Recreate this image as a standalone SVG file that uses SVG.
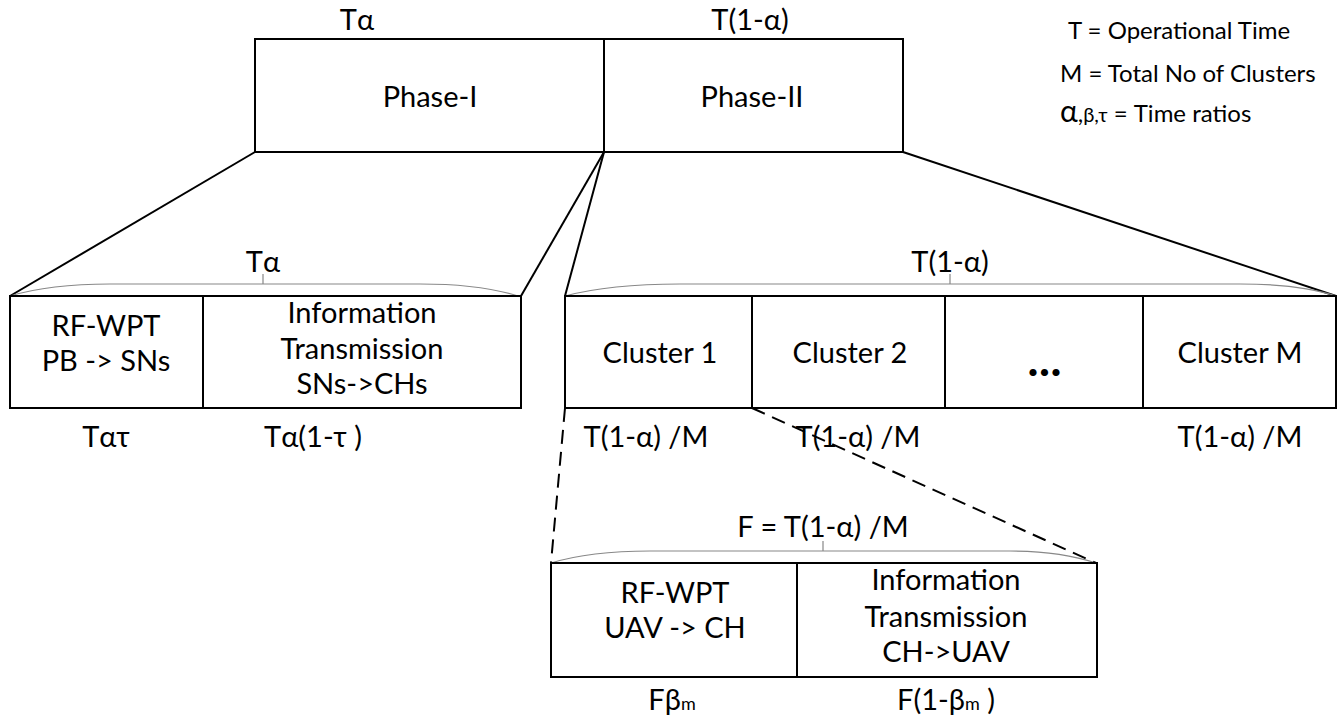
<svg xmlns="http://www.w3.org/2000/svg" width="1343" height="715" viewBox="0 0 1343 715">
<style>
text{font-family:Lato,"Open Sans","Liberation Sans",sans-serif;fill:#000;text-anchor:middle}
.t{font-size:29px}
.lg{font-size:24px;text-anchor:start}
.box{fill:#fff;stroke:#000;stroke-width:2}
.ln{stroke:#000;stroke-width:2;fill:none}
.dash{stroke:#000;stroke-width:2;fill:none;stroke-dasharray:14 8}
.brace{stroke:#888;stroke-width:1.2;fill:none}
</style>
<rect width="1343" height="715" fill="#fff"/>
<g id="connectors">
<line class="ln" x1="255" y1="152" x2="10" y2="296"/>
<line class="ln" x1="604" y1="152" x2="521" y2="296"/>
<line class="ln" x1="604" y1="152" x2="565" y2="296"/>
<line class="ln" x1="903" y1="152" x2="1336" y2="296"/>
<line class="dash" x1="565" y1="408" x2="551" y2="563"/>
<line class="dash" x1="752" y1="408" x2="1096" y2="563"/>
</g>
<g id="phase-top">
<rect class="box" x="255" y="39" width="349" height="113"/>
<rect class="box" x="604" y="39" width="299" height="113"/>
<text class="t" x="430" y="107">Phase-I</text>
<text class="t" x="752" y="107">Phase-II</text>
<text class="t" x="357" y="30">Tα</text>
<text class="t" x="750" y="30">T(1-α)</text>
</g>
<g id="legend">
<text class="lg" x="1068" y="39">T = Operational Time</text>
<text class="lg" x="1060" y="82">M = Total No of Clusters</text>
<text class="lg" x="1060" y="122"><tspan font-size="30">α</tspan>,<tspan font-size="20">β,τ</tspan>  = Time ratios</text>
</g>
<g id="phase1">
<path class="brace" d="M10,296 Q50,284 110,284 L420,284 Q480,284 518,296 M263,284 V274"/>
<text class="t" x="263" y="272">Tα</text>
<rect class="box" x="10" y="296" width="193" height="112"/>
<rect class="box" x="203" y="296" width="318" height="112"/>
<text class="t" x="106" y="336">RF-WPT</text>
<text class="t" x="106" y="371">PB -&gt; SNs</text>
<text class="t" x="362" y="323">Information</text>
<text class="t" x="362" y="359">Transmission</text>
<text class="t" x="362" y="394">SNs-&gt;CHs</text>
<text class="t" x="106" y="447">Tατ</text>
<text class="t" x="313" y="447">Tα(1-τ )</text>
</g>
<g id="phase2">
<path class="brace" d="M565,296 Q610,284 680,284 L1240,284 Q1300,284 1336,296 M950,284 V274"/>
<text class="t" x="950" y="272">T(1-α)</text>
<rect class="box" x="565" y="296" width="187" height="112"/>
<rect class="box" x="752" y="296" width="193" height="112"/>
<rect class="box" x="945" y="296" width="198" height="112"/>
<rect class="box" x="1143" y="296" width="193" height="112"/>
<text class="t" x="660" y="363">Cluster 1</text>
<text class="t" x="850" y="363">Cluster 2</text>
<text x="1045" y="376" font-size="44" font-weight="900" letter-spacing="1" font-family="'Liberation Sans',sans-serif">...</text>
<text class="t" x="1240" y="363">Cluster M</text>
<text class="t" x="646" y="447">T(1-α) /M</text>
<text class="t" x="858" y="447">T(1-α) /M</text>
<text class="t" x="1240" y="447">T(1-α) /M</text>
</g>
<g id="cluster-detail">
<path class="brace" d="M551,563 Q590,551 650,551 L1010,551 Q1060,551 1096,563 M823,551 V541"/>
<text class="t" x="823" y="537">F = T(1-α) /M</text>
<rect class="box" x="551" y="563" width="246" height="114"/>
<rect class="box" x="797" y="563" width="300" height="114"/>
<text class="t" x="675" y="603">RF-WPT</text>
<text class="t" x="675" y="638">UAV -&gt; CH</text>
<text class="t" x="946" y="590">Information</text>
<text class="t" x="946" y="627">Transmission</text>
<text class="t" x="946" y="662">CH-&gt;UAV</text>
<text class="t" x="672" y="710">Fβ<tspan font-size="18">m</tspan></text>
<text class="t" x="946" y="710">F(1-β<tspan font-size="18">m</tspan> )</text>
</g>
</svg>
